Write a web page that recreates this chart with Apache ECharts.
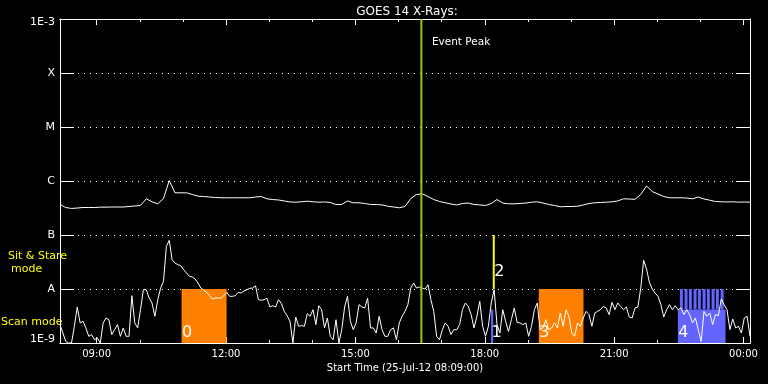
<!DOCTYPE html>
<html><head><meta charset="utf-8">
<script src="https://cdn.jsdelivr.net/npm/echarts@6/dist/echarts.min.js"></script>
<style>html,body{margin:0;padding:0;background:#000}#c{width:768px;height:384px}</style>
</head><body><div id="c"></div>
<script>
// ---------------- data ----------------
const titleText = 'GOES 14 X-Rays:';
const xTitle = 'Start Time (25-Jul-12 08:09:00)';
const startHour = 8.15;            // 08:09 on 25-Jul-12
const endHour = 24.15;             // 00:09 next day
const majorHours = [9, 12, 15, 18, 21, 24];
const minorHours = [9, 10, 11, 12, 13, 14, 15, 16, 17, 18, 19, 20, 21, 22, 23, 24];
const levelLabels = ['1E-9', 'A', 'B', 'C', 'M', 'X', '1E-3'];

// GOES long channel (1-8 A), 8-minute cadence, units of 1e-7 W/m^2
const longCadenceMin = 8;
const longFluxE7 = [
  3.67, 3.23, 3.10, 3.16, 3.23, 3.23, 3.23, 3.28, 3.28, 3.30,
  3.30, 3.30, 3.37, 3.45, 3.52, 4.68, 4.12, 3.78, 4.74, 10.2,
  6.04, 6.04, 6.04, 5.62, 5.23, 5.16, 5.05, 4.95, 4.89, 4.89,
  4.89, 4.89, 4.89, 4.89, 5.05, 5.16, 4.68, 4.54, 4.45, 4.27,
  4.09, 4.05, 4.12, 4.23, 4.12, 4.05, 4.09, 4.00, 3.67, 3.67,
  4.27, 3.95, 3.95, 3.83, 3.67, 3.67, 3.60, 3.41, 3.30, 3.19,
  3.37, 4.74, 5.62, 5.79, 5.16, 4.54, 4.17, 3.95, 3.75, 3.60,
  3.83, 3.91, 3.67, 3.60, 3.52, 3.83, 4.54, 3.91, 3.78, 3.78,
  3.83, 3.91, 4.05, 4.12, 3.91, 3.67, 3.52, 3.33, 3.37, 3.37,
  3.41, 3.60, 3.83, 3.95, 4.00, 4.05, 4.12, 4.27, 4.68, 4.64,
  4.58, 5.62, 8.08, 6.39, 5.74, 5.16, 4.89, 4.89, 4.89, 4.84,
  4.68, 5.05, 4.64, 4.41, 4.17, 4.12, 4.09, 4.12, 4.05, 4.09,
  4.05
];

// GOES short channel (0.5-4 A), 4-minute cadence, units of 1e-9 W/m^2
const shortCadenceMin = 4;
const shortFluxE9 = [
  2.19, 1.53, 1.07, 1.00, 1.00, 2.04, 4.64, 2.35, 2.52, 1.90,
  1.33, 1.43, 1.15, 1.24, 1.00, 2.35, 2.90, 2.70, 1.43, 1.77,
  2.19, 1.33, 1.90, 1.33, 1.33, 7.53, 2.35, 1.90, 4.14, 9.72,
  9.72, 6.81, 5.50, 3.12, 6.35, 10.4, 13.9, 61.7, 79.7, 34.9,
  30.3, 28.2, 27.0, 22.8, 19.8, 17.2, 16.7, 15.3, 12.9, 10.4,
  9.45, 8.68, 7.53, 6.53, 6.81, 6.81, 6.81, 7.53, 8.68, 7.32,
  7.32, 7.53, 8.68, 8.43, 9.18, 9.72, 10.3, 10.4, 11.5, 6.35,
  6.17, 6.35, 6.72, 4.64, 4.91, 4.64, 6.35, 5.35, 3.86, 3.21,
  2.52, 1.00, 3.03, 2.04, 2.10, 2.04, 3.49, 3.12, 4.14, 2.19,
  4.91, 4.14, 1.90, 2.90, 1.33, 1.15, 2.70, 1.00, 1.77, 4.64,
  7.32, 2.52, 1.77, 2.35, 5.13, 4.64, 4.45, 6.81, 1.90, 1.90,
  1.53, 3.12, 1.77, 1.33, 1.33, 1.77, 1.90, 1.15, 2.35, 3.12,
  3.86, 5.13, 10.4, 12.9, 10.4, 10.9, 10.4, 10.0, 12.0, 6.35,
  3.86, 1.33, 1.15, 1.77, 2.35, 2.04, 1.43, 1.77, 1.77, 2.19,
  4.14, 5.50, 4.77, 3.35, 1.90, 3.12, 5.91, 2.04, 1.33, 2.04,
  5.50, 9.72, 2.19, 1.53, 4.14, 2.52, 1.64, 2.70, 4.45, 2.41,
  2.35, 2.19, 2.35, 1.33, 2.04, 4.14, 5.50, 1.77, 1.90, 2.70,
  1.77, 1.90, 2.35, 1.90, 3.59, 2.04, 4.14, 3.12, 1.53, 1.33,
  2.35, 2.04, 2.90, 3.86, 3.35, 2.04, 3.59, 3.86, 4.14, 4.77,
  4.45, 3.35, 5.66, 4.14, 5.50, 4.77, 4.14, 4.64, 3.03, 2.90,
  4.45, 4.64, 10.4, 34.0, 23.5, 13.3, 10.0, 8.43, 7.32, 5.13,
  3.03, 4.14, 5.13, 4.14, 4.91, 4.14, 4.45, 3.35, 4.14, 3.35,
  2.35, 2.90, 1.77, 1.07, 3.86, 3.12, 3.59, 2.19, 3.35, 3.21,
  6.53, 5.13, 4.14, 1.77, 2.78, 1.90, 2.04, 1.53, 2.90, 3.12,
  1.33
];

// Event peak
const eventPeakHour = 16.53;
const eventLabel = 'Event Peak';

// Observation blocks (hours since 25-Jul 00:00, flux range)
const obsLabels = ['0', '1', '2', '3', '4'];
const obsKind   = ['rasterA', 'rasterB', 'sitstare', 'rasterA', 'rasterB'];
const obsStart  = [10.969, 18.145, 18.185, 19.252, 22.477];
const obsEnd    = [12.013, 18.195, 18.231, 20.289, 23.584];
const obsLow    = [1e-9, 1e-9, 1e-8, 1e-9, 1e-9];
const obsHigh   = [1e-8, 4.17e-9, 1e-7, 1e-8, 4.17e-9];
// sub-exposures inside block 4
const subStart = [22.524, 22.633, 22.732, 22.841, 22.941, 23.050, 23.150, 23.259, 23.359, 23.468];
const subEnd   = [22.593, 22.702, 22.802, 22.911, 23.011, 23.120, 23.219, 23.329, 23.428, 23.538];
const subLow = 4.17e-9, subHigh = 1e-8;

const modeLabels = ['Sit & Stare', 'mode', 'Scan mode'];

// ---------------- styles ----------------
const FONT = 'DejaVu Sans';
const kindColor = { rasterA: '#ff8000', rasterB: '#6464ff', sitstare: '#ffff00' };
const kindLabelLift = { rasterA: 10.5, rasterB: 10.5, sitstare: 17 };
const eventColor = '#99cc00';

// ---------------- build ----------------
const longData = longFluxE7.map((v, i) => [startHour + i * longCadenceMin / 60, v * 1e-7]);
const shortData = shortFluxE9.map((v, i) => [startHour + i * shortCadenceMin / 60, v * 1e-9]);
const obsData = obsLabels.map((l, i) => [obsStart[i], obsEnd[i], obsLow[i], obsHigh[i]]);
const subData = subStart.map((s, i) => [s, subEnd[i], subLow, subHigh]);

const hhmm = h => String(Math.round(h) % 24).padStart(2, '0') + ':00';

const xBase = {
  type: 'value', min: startHour, max: endHour, gridIndex: 0,
  splitLine: { show: false },
  axisLine: { show: true, onZero: false, lineStyle: { color: '#fff', width: 1 } },
  axisLabel: { show: false }
};
const tick = (len, vals) => ({ show: true, inside: true, length: len, customValues: vals, lineStyle: { color: '#fff', width: 1 } });

const yBase = {
  type: 'log', logBase: 10, min: 1e-9, max: 1e-3, gridIndex: 0,
  axisLine: { show: true, lineStyle: { color: '#fff', width: 1 } },
  axisTick: { show: true, inside: true, length: 14, lineStyle: { color: '#fff', width: 1 } }
};

const option = {
  backgroundColor: '#000',
  animation: false,
  title: {
    text: titleText, left: 402, top: 1, textAlign: 'center',
    textStyle: { color: '#fff', fontSize: 12, fontWeight: 'normal', fontFamily: FONT }
  },
  grid: { left: 60, right: 18, top: 19, bottom: 41, containLabel: false, outerBoundsMode: 'none' },
  xAxis: [
    Object.assign({}, xBase, {
      position: 'bottom',
      axisTick: tick(6, majorHours),
      axisLabel: { show: true, customValues: majorHours, formatter: hhmm, color: '#fff', fontSize: 10, fontFamily: FONT, margin: 6 },
      name: xTitle, nameLocation: 'middle', nameGap: 24,
      nameTextStyle: { color: '#fff', fontSize: 10, fontFamily: FONT, verticalAlign: 'middle' }
    }),
    Object.assign({}, xBase, { position: 'bottom', axisTick: tick(3, minorHours) }),
    Object.assign({}, xBase, { position: 'top', axisTick: tick(6, majorHours) }),
    Object.assign({}, xBase, { position: 'top', axisTick: tick(3, minorHours) })
  ],
  yAxis: [
    Object.assign({}, yBase, {
      position: 'left',
      axisLabel: {
        color: '#fff', fontSize: 11, fontFamily: FONT, margin: 5,
        formatter: v => {
          const k = Math.round(Math.log10(v)) + 9;
          if (k === 0) return '{lo|' + levelLabels[k] + '}';
          if (k === 6) return '{hi|' + levelLabels[k] + '}';
          return levelLabels[k] || '';
        },
        rich: {
          lo: { color: '#fff', fontSize: 11, fontFamily: FONT, padding: [0, 0, 7, 0] },
          hi: { color: '#fff', fontSize: 11, fontFamily: FONT, padding: [7, 0, 0, 0] }
        }
      },
      splitLine: { show: true, lineStyle: { color: '#fff', width: 1, type: [1, 5] } }
    }),
    Object.assign({}, yBase, { position: 'right', axisLabel: { show: false }, splitLine: { show: false } })
  ],
  graphic: [
    { type: 'text', left: 8, top: 251, style: { text: modeLabels[0], fill: '#ffff00', font: '11px ' + FONT } },
    { type: 'text', left: 11, top: 264, style: { text: modeLabels[1], fill: '#ffff00', font: '11px ' + FONT } },
    { type: 'text', left: 1, top: 317, style: { text: modeLabels[2], fill: '#ffff00', font: '11px ' + FONT } }
  ],
  series: [
    {
      type: 'custom', name: 'obs', z: 1, xAxisIndex: 0, yAxisIndex: 0,
      encode: { x: [0, 1], y: [2, 3] },
      data: obsData,
      renderItem: (params, api) => {
        const i = params.dataIndex;
        const p0 = api.coord([api.value(0), api.value(3)]);
        const p1 = api.coord([api.value(1), api.value(2)]);
        const kind = obsKind[i];
        return {
          type: 'group',
          children: [
            { type: 'rect', shape: { x: p0[0], y: p0[1], width: p1[0] - p0[0], height: p1[1] - p0[1] },
              style: { fill: kindColor[kind] } },
            { type: 'text', z2: 10,
              style: { text: obsLabels[i], x: p0[0] + (kind === 'sitstare' ? 1.5 : 0.5), y: p1[1] - kindLabelLift[kind],
                fill: '#fff', font: '16px ' + FONT, align: 'left', verticalAlign: 'middle' } }
          ]
        };
      }
    },
    {
      type: 'custom', name: 'sub', z: 1, xAxisIndex: 0, yAxisIndex: 0,
      encode: { x: [0, 1], y: [2, 3] },
      data: subData,
      renderItem: (params, api) => {
        const p0 = api.coord([api.value(0), api.value(3)]);
        const p1 = api.coord([api.value(1), api.value(2)]);
        return { type: 'rect', shape: { x: p0[0], y: p0[1], width: p1[0] - p0[0], height: p1[1] - p0[1] },
          style: { fill: kindColor.rasterB } };
      }
    },
    {
      type: 'line', name: 'long', z: 3, xAxisIndex: 0, yAxisIndex: 0,
      data: longData, symbol: 'none', showSymbol: false, smooth: false,
      lineStyle: { color: '#fff', width: 1 }
    },
    {
      type: 'line', name: 'short', z: 3, xAxisIndex: 0, yAxisIndex: 0,
      data: shortData, symbol: 'none', showSymbol: false, smooth: false,
      lineStyle: { color: '#fff', width: 1 }
    },
    {
      type: 'custom', name: 'event', z: 4, xAxisIndex: 0, yAxisIndex: 0,
      encode: { x: 0, y: 1 },
      data: [[eventPeakHour, 1e-6]],
      renderItem: (params, api) => {
        const t = api.value(0);
        const top = api.coord([t, 1e-3]);
        const bot = api.coord([t, 1e-9]);
        return {
          type: 'group',
          children: [
            { type: 'line', shape: { x1: top[0], y1: top[1], x2: bot[0], y2: bot[1] },
              style: { stroke: eventColor, lineWidth: 2 } },
            { type: 'text', style: { text: eventLabel, x: top[0] + 10.5, y: top[1] + 23,
              fill: '#fff', font: '10.5px ' + FONT, align: 'left', verticalAlign: 'middle' } }
          ]
        };
      }
    }
  ]
};
const chart = echarts.init(document.getElementById('c'));
chart.setOption(option);
</script>
</body></html>
